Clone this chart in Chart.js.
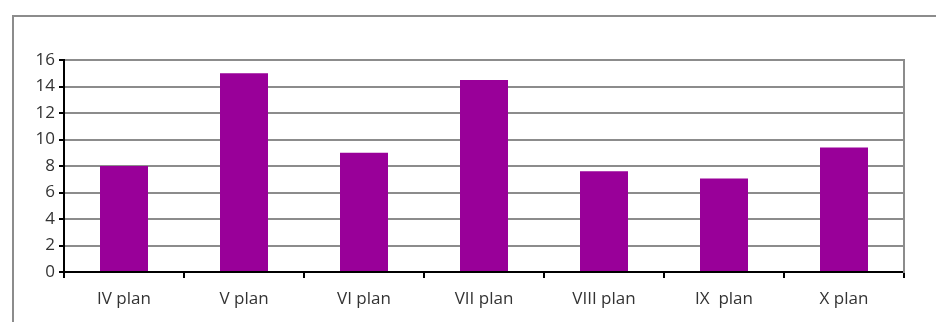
<!DOCTYPE html>
<html lang="en">
<head>
    <meta charset="UTF-8">
    <title>Plan bars</title>
    <script src="https://cdn.jsdelivr.net/npm/chart.js"></script>
    <style>
        body { margin: 0; background: white; }
        #frame { position: absolute; left: 12px; top: 15px; width: 1000px; height: 400px; border: 2px solid #8c8c8c; }
        #wrap { position: absolute; left: 0; top: 0; width: 936px; height: 322px; }
    </style>
</head>
<body>
    <div id="frame"></div>
    <div id="wrap"><canvas id="chart"></canvas></div>
    <script>
    // Categories and values
    const plans = ['IV plan', 'V plan', 'VI plan', 'VII plan', 'VIII plan', 'IX  plan', 'X plan'];
    const values = [8, 15, 9, 14.5, 7.6, 7.05, 9.4];
    const yTicks = [0, 2, 4, 6, 8, 10, 12, 14, 16];

    const font = { family: 'Open Sans', size: 17 };

    new Chart(document.getElementById('chart'), {
        type: 'bar',
        data: {
            labels: plans,
            datasets: [{
                data: values,
                backgroundColor: '#990099',
                categoryPercentage: 0.4,
                barPercentage: 1
            }]
        },
        options: {
            responsive: true,
            maintainAspectRatio: false,
            animation: false,
            layout: { padding: { top: 60, right: 32, left: 0, bottom: 0 } },
            plugins: { legend: { display: false }, tooltip: { enabled: false } },
            scales: {
                x: {
                    offset: true,
                    grid: { offset: true, drawOnChartArea: false, tickLength: 6, tickColor: '#000', lineWidth: 2 },
                    border: { color: '#000', width: 2 },
                    ticks: { color: '#333', font: font, padding: 11, maxRotation: 0 },
                    afterFit: s => { s.height = 50; }
                },
                y: {
                    min: 0,
                    max: 16,
                    afterBuildTicks: s => { s.ticks = yTicks.map(v => ({ value: v })); },
                    grid: { color: '#8c8c8c', lineWidth: 2, tickLength: 5, tickColor: '#000' },
                    border: { color: '#000', width: 2 },
                    ticks: { color: '#333', font: font, padding: 4 },
                    afterFit: s => { s.width = 64; }
                },
                y2: {
                    position: 'right',
                    min: 0,
                    max: 16,
                    grid: { drawOnChartArea: false, drawTicks: false },
                    border: { color: '#8c8c8c', width: 2 },
                    ticks: { display: false },
                    afterFit: s => { s.width = 0; }
                }
            }
        }
    });
    </script>
</body>
</html>
